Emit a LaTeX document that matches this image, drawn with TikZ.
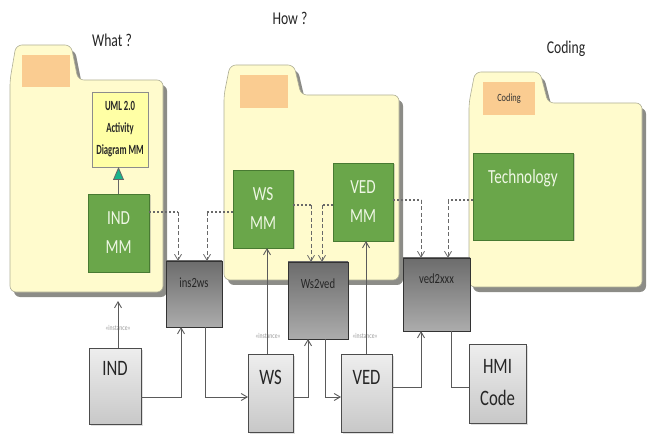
\documentclass[tikz,border=0pt]{standalone}
\usepackage{fontspec}
\setmainfont[FakeStretch=0.76]{Carlito}
\newfontfamily\umlfont[FakeStretch=0.62]{Carlito}
\usetikzlibrary{arrows.meta,shadows}

\definecolor{folderfill}{RGB}{255,251,205}
\definecolor{folderline}{RGB}{175,175,150}
\definecolor{foldershade}{RGB}{140,140,135}
\definecolor{tabfill}{RGB}{250,204,145}
\definecolor{mmgreen}{RGB}{106,166,74}
\definecolor{mmborder}{RGB}{72,122,50}
\definecolor{mmtext}{RGB}{238,247,228}
\definecolor{umlfill}{RGB}{255,255,165}
\definecolor{tealhead}{RGB}{25,180,140}
\definecolor{wire}{RGB}{90,90,90}
\definecolor{dotcol}{RGB}{105,105,105}
\definecolor{darktop}{RGB}{108,108,108}
\definecolor{darkbot}{RGB}{172,172,172}
\definecolor{lighttop}{RGB}{238,238,238}
\definecolor{lightbot}{RGB}{200,200,200}

% folder outline: x0, x1, tab top, body top, tab right, bottom, slope end
\newcommand{\drawfolder}[7]{%
  \fill[foldershade, rounded corners=6pt, xshift=4pt, yshift=-5pt]
    (#1,#6) -- (#1,#4) -- (#1+6,#3) -- (#5,#3) -- (#7,#4) -- (#2,#4) -- (#2,#6) -- cycle;
  \draw[folderline, fill=folderfill, line width=0.6pt, rounded corners=6pt]
    (#1,#6) -- (#1,#4) -- (#1+6,#3) -- (#5,#3) -- (#7,#4) -- (#2,#4) -- (#2,#6) -- cycle;
}

\tikzset{
  box/.style={rectangle, anchor=north west, inner sep=0pt, outer sep=0pt},
  mm/.style={box, draw=mmborder, fill=mmgreen, line width=0.9pt, text=mmtext,
    align=center, font=\fontsize{20}{29}\selectfont,
    drop shadow={shadow xshift=1.5pt, shadow yshift=-1.5pt, opacity=0.35}},
  trafo/.style={box, draw=black!80, line width=0.8pt, top color=darktop, bottom color=darkbot},
  model/.style={box, draw=black!70, line width=0.8pt, top color=lighttop, bottom color=lightbot,
    drop shadow={shadow xshift=1.5pt, shadow yshift=-1.5pt, opacity=0.25}},
  tablabel/.style={box, fill=tabfill},
  title/.style={font=\fontsize{18}{20}\selectfont, text=black!85},
  trafolabel/.style={font=\fontsize{14}{16}\selectfont, text=black!85},
  modellabel/.style={font=\fontsize{22}{32}\selectfont, text=black!85, align=center},
  stereo/.style={font=\fontsize{7.5}{8}\selectfont, text=black!40},
  wireline/.style={draw=wire, line width=0.9pt},
  wirearrow/.style={wireline, -{Straight Barb[length=6pt,width=7pt]}},
  dotpart/.style={draw=dotcol, line width=2pt, dash pattern=on 2.2pt off 1.8pt},
  dashpart/.style={draw=dotcol, line width=0.8pt, dash pattern=on 4pt off 2.5pt,
    -{Straight Barb[length=6pt,width=7pt]}},
}

\begin{document}
\begin{tikzpicture}[x=1pt, y=-1pt]
\useasboundingbox (0,0) rectangle (647,435);

% folders
\drawfolder{10}{163}{45}{80}{71}{292}{78}
\drawfolder{224}{399}{65}{95}{294}{280}{301}
\drawfolder{469}{642}{72}{103}{540}{287}{548}

% folder tabs
\node[tablabel, minimum width=48pt, minimum height=32pt] (tabwhat) at (22,55) {};
\node[tablabel, minimum width=48pt, minimum height=33pt] (tabhow) at (240,75) {};
\node[tablabel, minimum width=52pt, minimum height=33pt, font=\fontsize{11}{12}\selectfont, text=black!80]
  (tabcode) at (483,82) {Coding};

% titles
\node[title] (what) at (112,40) {What ?};
\node[title] (how) at (290,18) {How ?};
\node[title] (coding) at (566,49) {Coding};

% metamodels
\node[box, draw=black!45, fill=umlfill, line width=0.7pt, minimum width=56pt, minimum height=75pt,
  align=center, font=\umlfont\bfseries\fontsize{14}{22}\selectfont, text=black!85] (uml) at (92,92)
  {UML 2.0\\Activity\\Diagram MM};
\node[mm, minimum width=61pt, minimum height=78pt] (indmm) at (88,194) {IND\\MM};
\node[mm, minimum width=60pt, minimum height=78pt] (wsmm) at (233,170) {WS\\MM};
\node[mm, minimum width=60pt, minimum height=78pt] (vedmm) at (333,163) {VED\\MM};
\node[mm, minimum width=100pt, minimum height=87pt,
  label={[anchor=north, yshift=-13pt, text=mmtext, font=\fontsize{20}{24}\selectfont]north:Technology}]
  (tech) at (473,153) {};

% transformations
\node[trafo, minimum width=56pt, minimum height=66pt,
  label={[trafolabel, anchor=north, yshift=-13pt]north:ins2ws}] (ins2ws) at (166,261) {};
\node[trafo, minimum width=60pt, minimum height=77pt,
  label={[trafolabel, anchor=north, yshift=-13pt]north:Ws2ved}] (ws2ved) at (288,262) {};
\node[trafo, minimum width=67pt, minimum height=73pt,
  label={[trafolabel, anchor=north, yshift=-12pt]north:ved2xxx}] (ved2xxx) at (403,258) {};

% models
\node[model, minimum width=52pt, minimum height=76pt,
  label={[modellabel, anchor=north, yshift=-10pt]north:IND}] (ind) at (89,348) {};
\node[model, minimum width=45pt, minimum height=78pt,
  label={[modellabel, anchor=north, yshift=-13pt]north:WS}] (ws) at (248,354) {};
\node[model, minimum width=51pt, minimum height=78pt,
  label={[modellabel, anchor=north, yshift=-13pt]north:VED}] (ved) at (341,354) {};
\node[model, minimum width=57pt, minimum height=79pt,
  label={[modellabel, anchor=north, yshift=-12pt]north:HMI\\Code}] (hmi) at (469,344) {};

% stereotype labels
\node[stereo] (inst1) at (118,328) {«instance»};
\node[stereo] (inst2) at (268,336) {«instance»};
\node[stereo] (inst3) at (365,336) {«instance»};

% conformance of IND MM to the UML metamodel
\draw[draw=black!60, line width=0.8pt, -{Triangle[length=13pt,width=11pt,fill=tealhead]}]
  (indmm.north) -- (indmm.north |- uml.south);

% bends of the metamodel links
\coordinate (k1) at (178,212);
\coordinate (k2) at (207,212);
\coordinate (k3) at (311,205);
\coordinate (k4) at (322,205);
\coordinate (k5) at (421,200);
\coordinate (k6) at (448,200);

\draw[dotpart] (indmm.east |- k1) -- (k1);
\draw[dashpart] (k1) -- (k1 |- ins2ws.north);
\draw[dotpart] (wsmm.west |- k2) -- (k2);
\draw[dashpart] (k2) -- (k2 |- ins2ws.north);
\draw[dotpart] (wsmm.east |- k3) -- (k3);
\draw[dashpart] (k3) -- (k3 |- ws2ved.north);
\draw[dotpart] (vedmm.west |- k4) -- (k4);
\draw[dashpart] (k4) -- (k4 |- ws2ved.north);
\draw[dotpart] (vedmm.east |- k5) -- (k5);
\draw[dashpart] (k5) -- (k5 |- ved2xxx.north);
\draw[dotpart] (tech.west |- k6) -- (k6);
\draw[dashpart] (k6) -- (k6 |- ved2xxx.north);

% bends of the model links
\coordinate (f1) at (118,301);
\coordinate (k7) at (181,397);
\coordinate (k8) at (205,397);
\coordinate (k9) at (267,300);
\coordinate (k10) at (308,397);
\coordinate (k11) at (325,397);
\coordinate (k12) at (366,300);
\coordinate (k13) at (421,387);
\coordinate (k14) at (451,387);

\draw[wirearrow] (ind.north -| f1) -- (f1);
\draw[wirearrow] (ind.east |- k7) -- (k7) -- (k7 |- ins2ws.south);
\draw[wirearrow] (k8 |- ins2ws.south) -- (k8) -- (ws.west |- k8);
\draw[wirearrow] (ws.north -| k9) -- (k9 |- wsmm.south);
\draw[wirearrow] (ws.east |- k10) -- (k10) -- (k10 |- ws2ved.south);
\draw[wirearrow] (k11 |- ws2ved.south) -- (k11) -- (ved.west |- k11);
\draw[wirearrow] (ved.north -| k12) -- (k12 |- vedmm.south);
\draw[wirearrow] (ved.east |- k13) -- (k13) -- (k13 |- ved2xxx.south);
\draw[wireline] (k14 |- ved2xxx.south) -- (k14) -- (hmi.west |- k14);
\end{tikzpicture}
\end{document}
